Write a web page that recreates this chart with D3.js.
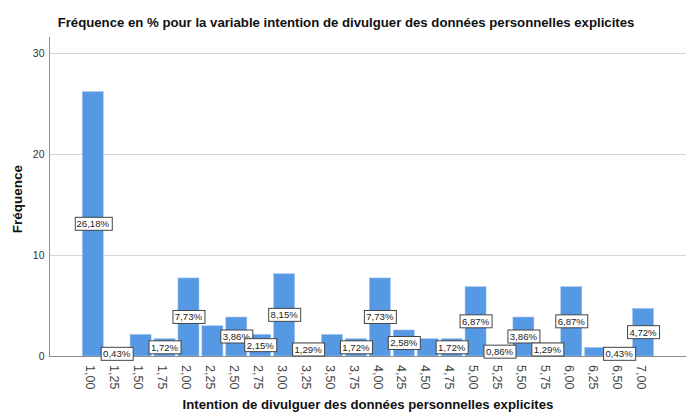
<!DOCTYPE html>
<html>
<head>
<meta charset="utf-8">
<script src="https://cdn.jsdelivr.net/npm/d3@7"></script>
<style>
  html, body { margin: 0; padding: 0; background: #fff; }
  svg { display: block; font-family: "Liberation Sans", Arial, sans-serif; }
</style>
</head>
<body>
<svg id="chart" width="686" height="412"></svg>
<script>
// Modalités de la variable (scores moyens)
const categories = ["1,00","1,25","1,50","1,75","2,00","2,25","2,50","2,75","3,00","3,25","3,50","3,75",
                    "4,00","4,25","4,50","4,75","5,00","5,25","5,50","5,75","6,00","6,25","6,50","7,00"];
// Pourcentage par modalité
const percents = [26.18, 0.43, 2.15, 1.72, 7.73, 3.00, 3.86, 2.15, 8.15, 1.29, 2.15, 1.72,
                  7.73, 2.58, 1.72, 1.72, 6.87, 0.86, 3.86, 1.29, 6.87, 0.86, 0.43, 4.72];
// Étiquettes masquées (chevauchement)
const hiddenLabels = ["1,50","2,25","3,50","4,50","6,25"];
const yTicks = [0, 10, 20, 30];

const title = "Fréquence en % pour la variable intention de divulguer des données personnelles explicites";
const xTitle = "Intention de divulguer des données personnelles explicites";
const yTitle = "Fréquence";

const svg = d3.select("#chart");
const axisX = 49, baseY = 356, topY = 37, rightX = 686;

const x = d3.scaleBand().domain(categories).range([80.8, 655]).paddingInner(0.12).paddingOuter(0.06);
const y = d3.scaleLinear().domain([0, 30]).range([baseY, 53]);

// Grille horizontale
svg.append("g").selectAll("line").data(yTicks.filter(d => d > 0)).join("line")
  .attr("x1", axisX).attr("x2", rightX)
  .attr("y1", d => Math.round(y(d)) + 0.5).attr("y2", d => Math.round(y(d)) + 0.5)
  .attr("stroke", "#d6d6d6").attr("stroke-width", 1);

// Barres
svg.append("g").selectAll("rect").data(percents).join("rect")
  .attr("x", (d, i) => x(categories[i]))
  .attr("width", x.bandwidth())
  .attr("y", d => y(d))
  .attr("height", d => baseY - y(d))
  .attr("fill", "#5598e4")
  .attr("stroke", "#a9c9ef").attr("stroke-width", 0.6);

// Axe Y
const yAxis = d3.axisLeft(y).tickValues(yTicks).tickSize(0).tickPadding(5).tickFormat(d3.format("d"));
const gy = svg.append("g").attr("transform", `translate(${axisX + 0.5},0)`).call(yAxis);
gy.select(".domain").remove();
gy.selectAll("text").attr("font-size", 10.5).attr("fill", "#333").attr("font-family", "Liberation Sans, Arial, sans-serif");
svg.append("line").attr("x1", axisX + 0.5).attr("x2", axisX + 0.5).attr("y1", topY).attr("y2", baseY)
  .attr("stroke", "#8c8c8c").attr("stroke-width", 1);

// Axe X
const xAxis = d3.axisBottom(x).tickSize(0).tickPadding(0);
const gx = svg.append("g").attr("transform", `translate(0,${baseY})`).call(xAxis);
gx.select(".domain").remove();
gx.selectAll("text")
  .attr("font-size", 12.5).attr("fill", "#444").attr("font-family", "Liberation Sans, Arial, sans-serif")
  .attr("text-anchor", "start").attr("dy", null)
  .attr("transform", "translate(-3,9) rotate(90)")
  .attr("dominant-baseline", "middle");
svg.append("line").attr("x1", axisX).attr("x2", rightX).attr("y1", baseY + 0.5).attr("y2", baseY + 0.5)
  .attr("stroke", "#8c8c8c").attr("stroke-width", 1);

// Étiquettes de valeur
const fmt = v => v.toFixed(2).replace(".", ",") + "%";
const lab = svg.append("g").selectAll("g")
  .data(percents.map((v, i) => ({ v, c: categories[i] })).filter(d => !hiddenLabels.includes(d.c)))
  .join("g")
  .attr("transform", d => `translate(${x(d.c) + x.bandwidth() / 2},${y(d.v / 2)})`);
lab.append("text").attr("text-anchor", "middle").attr("dy", "0.36em")
  .attr("font-size", 9.6).attr("fill", "#222").text(d => fmt(d.v));
lab.each(function () {
  const g = d3.select(this);
  const bb = g.select("text").node().getBBox();
  g.insert("rect", "text")
    .attr("x", Math.round(bb.x - 2) + 0.5).attr("y", -6.5)
    .attr("width", Math.round(bb.width + 4)).attr("height", 13)
    .attr("fill", "#fff").attr("stroke", "#444").attr("stroke-width", 1);
});

// Titres
svg.append("text").attr("x", 346).attr("y", 27).attr("text-anchor", "middle")
  .attr("font-size", 13.2).attr("font-weight", "bold").attr("fill", "#111").text(title);
svg.append("text").attr("x", 368).attr("y", 409).attr("text-anchor", "middle")
  .attr("font-size", 13.2).attr("font-weight", "bold").attr("fill", "#111").text(xTitle);
svg.append("text").attr("transform", "translate(22,199) rotate(-90)").attr("text-anchor", "middle")
  .attr("font-size", 13.5).attr("font-weight", "bold").attr("fill", "#111").text(yTitle);
</script>
</body>
</html>
